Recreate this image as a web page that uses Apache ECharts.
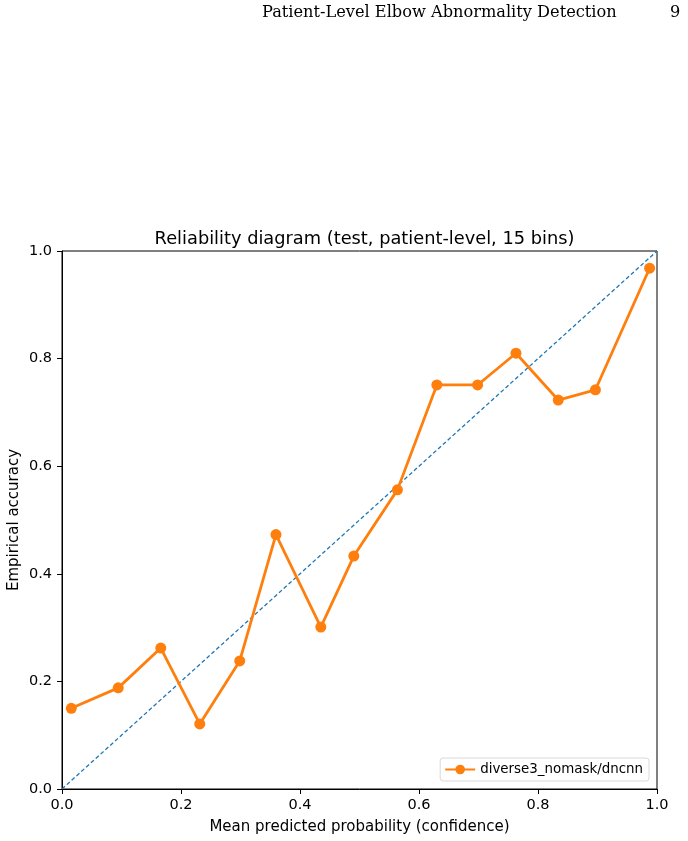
<!DOCTYPE html>
<html><head><meta charset="utf-8">
<script src="https://cdn.jsdelivr.net/npm/echarts@6/dist/echarts.min.js"></script>
<style>html,body{margin:0;padding:0;background:#fff}#c{width:688px;height:841px}</style>
</head><body><div id="c"></div>
<script>
const confidence = [0.0156, 0.0945, 0.166, 0.2315, 0.2987, 0.3596, 0.435, 0.4904, 0.5637, 0.630, 0.6985, 0.763, 0.834, 0.8965, 0.9876];
const accuracy   = [0.150, 0.188, 0.262, 0.121, 0.238, 0.473, 0.301, 0.433, 0.556, 0.751, 0.751, 0.810, 0.723, 0.742, 0.968];
const diagonal = [[0, 0], [1, 1]];
const xTicks = [0, 0.2, 0.4, 0.6, 0.8, 1.0];
const yTicks = [0, 0.2, 0.4, 0.6, 0.8, 1.0];
const seriesName = 'diverse3_nomask/dncnn';

const chart = echarts.init(document.getElementById('c'), null, {renderer: 'canvas'});
const axisCommon = {
  min: 0, max: 1, interval: 0.2,
  axisLine: {show: true, lineStyle: {color: '#000', width: 1}},
  axisTick: {show: true, length: 5, lineStyle: {color: '#000'}},
  splitLine: {show: false},
  axisLabel: {color: '#000', fontFamily: 'DejaVu Sans', fontSize: 14.5, formatter: v => v.toFixed(1)},
  nameTextStyle: {color: '#000', fontFamily: 'DejaVu Sans', fontSize: 15},
  nameMoveOverlap: false
};
chart.setOption({
  animation: false,
  backgroundColor: '#fff',
  graphic: [
    {type: 'text', left: 262, top: 5, style: {text: 'Patient-Level Elbow Abnormality Detection', font: '16.2px "DejaVu Serif"', fill: '#000'}},
    {type: 'text', left: 670, top: 5, style: {text: '9', font: '16.2px "DejaVu Serif"', fill: '#000'}}
  ],
  title: {
    text: 'Reliability diagram (test, patient-level, 15 bins)',
    left: 359.5, textAlign: 'center', top: 225,
    textStyle: {fontFamily: 'DejaVu Sans', fontSize: 17.8, fontWeight: 'normal', color: '#000'}
  },
  grid: {left: 62, right: 31, top: 251, bottom: 52, containLabel: false, outerBoundsMode: 'none',
         show: true, borderColor: '#000', borderWidth: 1, backgroundColor: 'transparent'},
  xAxis: Object.assign({}, axisCommon, {
    type: 'value', name: 'Mean predicted probability (confidence)', nameLocation: 'middle', nameGap: 31,
    axisLabel: Object.assign({}, axisCommon.axisLabel, {margin: 9})
  }),
  yAxis: Object.assign({}, axisCommon, {
    type: 'value', name: 'Empirical accuracy', nameLocation: 'middle', nameGap: 40,
    axisLabel: Object.assign({}, axisCommon.axisLabel, {margin: 10})
  }),
  legend: {
    show: true, right: 39, bottom: 60, orient: 'vertical',
    data: [seriesName],
    itemWidth: 30, itemHeight: 12, itemGap: 8,
    backgroundColor: '#fff', borderColor: '#d9d9d9', borderWidth: 1, borderRadius: 3,
    padding: [5, 6, 5, 4],
    textStyle: {fontFamily: 'DejaVu Sans', fontSize: 13.4, color: '#000'}
  },
  series: [
    {
      type: 'line', name: 'diag', data: diagonal, symbol: 'none', silent: true,
      lineStyle: {color: '#1f77b4', width: 1.3, type: [4, 2.5]}, z: 2
    },
    {
      type: 'line', name: seriesName, data: confidence.map((c, i) => [c, accuracy[i]]),
      symbol: 'circle', symbolSize: 11,
      itemStyle: {color: '#ff7f0e'}, lineStyle: {color: '#ff7f0e', width: 2.8}, z: 3
    }
  ]
});
</script></body></html>
